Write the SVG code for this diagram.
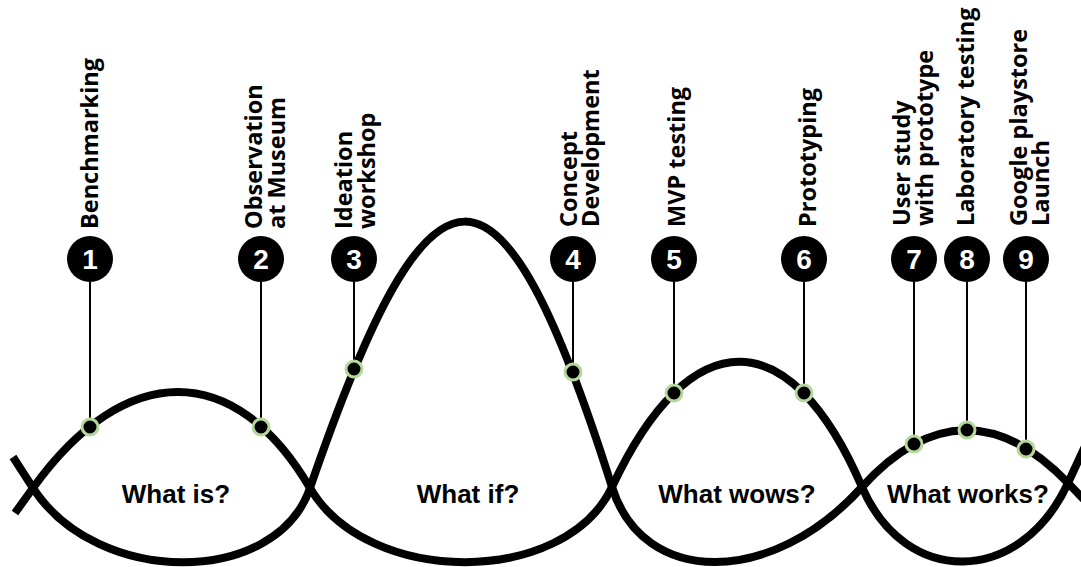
<svg xmlns="http://www.w3.org/2000/svg" width="1081" height="567" viewBox="0 0 1081 567">
  <style>
    .wave { fill: none; stroke: #000; stroke-width: 8; stroke-linecap: butt; stroke-linejoin: round; }
    .stem { stroke: #000; stroke-width: 2; }
    .badge { fill: #000; }
    .num { font-family: "Liberation Sans", Arial, sans-serif; font-weight: 700; font-size: 28px; fill: #fff; text-anchor: middle; }
    .dot { fill: #000; stroke: #b5d99c; stroke-width: 3; }
    .label { font-family: "Open Sans", "Noto Sans", sans-serif; font-weight: 700; font-size: 23.5px; fill: #000; }
    .phase { font-family: "Liberation Sans", Arial, sans-serif; font-weight: 700; font-size: 26px; fill: #000; text-anchor: middle; }
  </style>
  <rect width="1081" height="567" fill="#fff"/>

  <!-- two interlaced waves forming the four phase lobes -->
  <g id="wave">
    <path class="wave" d="M13,457 L33,488 C97,587 276,587 310,488 C432,133 500,133 612,487 C643,587 772,587 862,487 C930,412 1000,412 1068,483 L1095,511"/>
    <path class="wave" d="M15,513 L33,488 C125,360 235,360 310,488 C368,587 565,587 612,487 C690,320 790,320 862,487 C905,587 1020,587 1068,483 L1095,425"/>
  </g>

  <!-- phase captions -->
  <g id="phases">
    <text class="phase" x="176" y="503">What is?</text>
    <text class="phase" x="468" y="503">What if?</text>
    <text class="phase" x="737" y="503">What wows?</text>
    <text class="phase" x="968" y="503">What works?</text>
  </g>

  <!-- leader lines from badges down to the wave -->
  <g id="connectors">
    <line class="stem" x1="90" y1="282" x2="90" y2="427"/>
    <line class="stem" x1="261" y1="282" x2="261" y2="427"/>
    <line class="stem" x1="354" y1="282" x2="354" y2="369"/>
    <line class="stem" x1="573" y1="282" x2="573" y2="372"/>
    <line class="stem" x1="674" y1="282" x2="674" y2="393"/>
    <line class="stem" x1="804" y1="282" x2="804" y2="393"/>
    <line class="stem" x1="914" y1="282" x2="914" y2="444"/>
    <line class="stem" x1="967" y1="282" x2="967" y2="430"/>
    <line class="stem" x1="1026" y1="282" x2="1026" y2="449"/>
  </g>

  <g id="step1">
    <circle class="badge" cx="90" cy="259" r="23"/>
    <text class="num" x="90" y="269">1</text>
    <text class="label" transform="translate(98,229) rotate(-90)">Benchmarking</text>
    <circle class="dot" cx="90" cy="427" r="8"/>
  </g>
  <g id="step2">
    <circle class="badge" cx="261" cy="259" r="23"/>
    <text class="num" x="261" y="269">2</text>
    <text class="label" transform="translate(262,229) rotate(-90)">Observation</text>
    <text class="label" transform="translate(285,229) rotate(-90)">at Museum</text>
    <circle class="dot" cx="261" cy="427" r="8"/>
  </g>
  <g id="step3">
    <circle class="badge" cx="354" cy="259" r="23"/>
    <text class="num" x="354" y="269">3</text>
    <text class="label" transform="translate(352,229) rotate(-90)">Ideation</text>
    <text class="label" transform="translate(375,229) rotate(-90)">workshop</text>
    <circle class="dot" cx="354" cy="369" r="8"/>
  </g>
  <g id="step4">
    <circle class="badge" cx="573" cy="259" r="23"/>
    <text class="num" x="573" y="269">4</text>
    <text class="label" transform="translate(577,227) rotate(-90)">Concept</text>
    <text class="label" transform="translate(599,227) rotate(-90)">Development</text>
    <circle class="dot" cx="573" cy="372" r="8"/>
  </g>
  <g id="step5">
    <circle class="badge" cx="674" cy="259" r="23"/>
    <text class="num" x="674" y="269">5</text>
    <text class="label" transform="translate(685,227) rotate(-90)">MVP testing</text>
    <circle class="dot" cx="674" cy="393" r="8"/>
  </g>
  <g id="step6">
    <circle class="badge" cx="804" cy="259" r="23"/>
    <text class="num" x="804" y="269">6</text>
    <text class="label" transform="translate(816,227) rotate(-90)">Prototyping</text>
    <circle class="dot" cx="804" cy="393" r="8"/>
  </g>
  <g id="step7">
    <circle class="badge" cx="914" cy="259" r="23"/>
    <text class="num" x="914" y="269">7</text>
    <text class="label" transform="translate(910,226) rotate(-90)">User study</text>
    <text class="label" transform="translate(933,226) rotate(-90)">with prototype</text>
    <circle class="dot" cx="914" cy="444" r="8"/>
  </g>
  <g id="step8">
    <circle class="badge" cx="967" cy="259" r="23"/>
    <text class="num" x="967" y="269">8</text>
    <text class="label" transform="translate(974,226) rotate(-90)">Laboratory testing</text>
    <circle class="dot" cx="967" cy="430" r="8"/>
  </g>
  <g id="step9">
    <circle class="badge" cx="1026" cy="259" r="23"/>
    <text class="num" x="1026" y="269">9</text>
    <text class="label" transform="translate(1027,226) rotate(-90)">Google playstore</text>
    <text class="label" transform="translate(1049,226) rotate(-90)">Launch</text>
    <circle class="dot" cx="1026" cy="449" r="8"/>
  </g>
</svg>
